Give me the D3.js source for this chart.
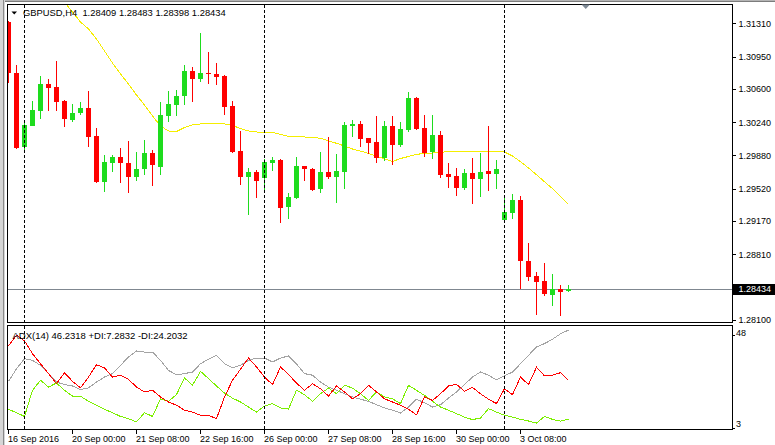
<!DOCTYPE html>
<html>
<head>
<meta charset="utf-8">
<script src="https://cdn.jsdelivr.net/npm/d3@7"></script>
<style>
html, body { margin: 0; padding: 0; background: #fff; }
svg { display: block; font-family: "Liberation Sans", Arial, sans-serif; font-size: 9px; }
</style>
</head>
<body>
<svg id="chart"></svg>
<script>
var width = 775, height = 445;

// GBPUSD H4 candles, one per bar, oldest first
var opens = [1.31324,1.30772,1.29975,1.30199,1.30364,1.30653,1.30618,1.30469,1.30264,1.30336,
  1.30394,1.30091,1.29596,1.29802,1.29860,1.29795,1.29650,1.29730,1.29904,1.29759,
  1.30307,1.30426,1.30524,1.30797,1.30707,1.30776,1.30762,1.30740,1.30415,1.29928,
  1.29650,1.29704,1.29640,1.29802,1.29831,1.29326,1.29423,1.29766,1.29734,1.29521,
  1.29701,1.29650,1.29704,1.30202,1.30221,1.30066,1.30026,1.29853,1.30199,1.29997,
  1.30156,1.30502,1.30177,1.29921,1.30102,1.29680,1.29658,1.29531,1.29687,1.29629,
  1.29712,1.29683,1.29185,1.29261,1.29398,1.28742,1.28579,1.28522,1.28374,1.28435,
  1.28409];
var highs = [1.31335,1.30859,1.30231,1.30469,1.30740,1.30707,1.30902,1.30480,1.30437,1.30455,
  1.30578,1.30174,1.29885,1.29885,1.29964,1.30037,1.29921,1.30047,1.29939,1.30455,
  1.30581,1.30588,1.30859,1.30840,1.31208,1.30996,1.30877,1.30751,1.30469,1.30148,
  1.29748,1.29723,1.29842,1.29867,1.29842,1.29477,1.29864,1.29770,1.29741,1.29918,
  1.30080,1.29896,1.30242,1.30264,1.30253,1.30070,1.30307,1.30253,1.30307,1.30242,
  1.30567,1.30516,1.30321,1.30321,1.30145,1.29799,1.29745,1.29734,1.29849,1.29907,
  1.30199,1.29831,1.29452,1.29463,1.29442,1.28933,1.28619,1.28717,1.28601,1.28479,
  1.28483];
var lows = [1.30664,1.29950,1.29907,1.30195,1.30271,1.30364,1.30364,1.30191,1.30245,1.30318,
  1.29975,1.29579,1.29488,1.29704,1.29579,1.29477,1.29604,1.29666,1.29553,1.29669,
  1.30245,1.30310,1.30426,1.30462,1.30678,1.30650,1.30643,1.30318,1.29904,1.29561,
  1.29236,1.29423,1.29496,1.29715,1.29153,1.29196,1.29412,1.29607,1.29499,1.29477,
  1.29629,1.29363,1.29521,1.30083,1.29975,1.29896,1.29802,1.29823,1.29780,1.29975,
  1.30137,1.30156,1.29864,1.29842,1.29640,1.29531,1.29445,1.29507,1.29358,1.29434,
  1.29499,1.29521,1.29153,1.29196,1.28432,1.28525,1.28154,1.28360,1.28255,1.28147,
  1.28398];
var closes = [1.30772,1.29964,1.30210,1.30372,1.30653,1.30613,1.30462,1.30271,1.30336,1.30390,
  1.30083,1.29596,1.29809,1.29860,1.29795,1.29650,1.29730,1.29904,1.29774,1.30318,
  1.30437,1.30524,1.30797,1.30707,1.30776,1.30758,1.30732,1.30408,1.29921,1.29650,
  1.29704,1.29607,1.29809,1.29831,1.29315,1.29431,1.29766,1.29730,1.29507,1.29701,
  1.29650,1.29712,1.30206,1.30221,1.30061,1.30018,1.29853,1.30199,1.29997,1.30163,
  1.30502,1.30163,1.29910,1.30102,1.29669,1.29650,1.29531,1.29687,1.29629,1.29698,
  1.29683,1.29734,1.29268,1.29398,1.28742,1.28568,1.28511,1.28384,1.28432,1.28406,
  1.28434];

// moving average (yellow), null where it is off the chart
var maValues = [null,null,null,null,null,null,1.31649,1.31540,1.31432,1.31324,
  1.31248,1.31140,1.31010,1.30880,1.30762,1.30653,1.30534,1.30426,1.30307,1.30199,
  1.30145,1.30139,1.30183,1.30210,1.30221,1.30226,1.30228,1.30221,1.30204,1.30172,
  1.30145,1.30134,1.30131,1.30131,1.30107,1.30087,1.30083,1.30080,1.30074,1.30066,
  1.30037,1.30012,1.29982,1.29950,1.29928,1.29901,1.29874,1.29842,1.29815,1.29847,
  1.29869,1.29891,1.29904,1.29907,1.29912,1.29925,1.29925,1.29921,1.29926,1.29928,
  1.29928,1.29928,1.29918,1.29874,1.29813,1.29745,1.29672,1.29596,1.29521,1.29434,
  1.29350];

// ADX(14) sub-window
var adxValues = [23.8,29.3,33.7,33.0,30.8,27.2,23.5,22.4,21.8,20.2,
  21.0,23.5,25.7,27.2,30.8,34.5,37.1,36.6,36.6,33.0,
  28.6,26.7,27.2,27.9,31.5,33.5,35.2,31.5,29.8,30.8,
  33.0,34.0,34.0,32.3,34.0,34.9,31.4,27.2,26.5,23.5,
  21.3,19.9,18.4,17.0,16.0,15.1,13.6,12.2,11.2,10.0,
  12.6,16.0,14.5,12.6,13.6,16.5,19.2,22.4,25.7,27.9,
  26.5,24.5,26.2,27.9,31.5,35.2,38.8,40.3,42.2,44.6,
  46.2];
var plusDI = [11.6,10.1,8.5,19.9,24.3,21.3,23.1,19.9,17.4,17.3,
  15.1,13.4,11.6,10.1,8.5,7.5,6.1,10.1,8.5,16.2,
  15.1,18.0,25.3,22.1,28.2,25.0,21.8,18.7,16.5,14.8,
  12.6,10.4,13.0,14.1,12.2,11.7,20.0,18.0,15.1,18.4,
  20.9,18.4,22.1,20.9,18.4,15.5,19.2,17.0,16.2,14.1,
  22.1,19.9,17.7,15.1,12.6,11.2,9.7,8.2,7.1,7.8,
  11.9,10.4,9.0,8.2,7.2,6.5,5.6,8.5,7.2,6.4,
  7.3];
var minusDI = [39.3,44.0,41.5,35.9,31.5,27.2,22.8,27.6,23.8,21.0,
  25.7,31.1,29.7,25.7,26.5,24.7,21.3,19.2,19.9,17.0,
  14.8,13.4,11.2,10.4,9.0,9.0,7.5,17.0,24.3,29.1,
  34.0,30.1,25.7,22.4,30.1,26.8,23.1,19.9,22.8,20.6,
  17.4,21.8,19.2,16.2,18.4,22.1,19.2,16.2,14.8,13.4,
  11.6,9.2,17.0,15.5,18.4,21.8,22.5,19.5,21.2,18.4,
  16.0,14.1,20.6,18.0,25.7,22.4,30.0,26.2,26.5,27.6,
  24.2];

var priceTicks = [1.31310,1.30950,1.30600,1.30240,1.29880,1.29520,1.29170,1.28810,1.28100];
var adxTicks = [48, 3];
var dateBars = [0, 8, 16, 24, 32, 40, 48, 56, 64];
var dateLabels = ["16 Sep 2016","20 Sep 00:00","21 Sep 08:00","22 Sep 16:00","26 Sep 00:00",
  "27 Sep 08:00","28 Sep 16:00","30 Sep 00:00","3 Oct 08:00"];
var separatorBars = [2, 32, 62];
var lastPrice = 1.28434;
var headerText = "GBPUSD,H4  1.28409 1.28483 1.28398 1.28434";
var adxHeader = "ADX(14) 46.2318 +DI:7.2832 -DI:24.2032";

var upColor = "#1edc1e", downColor = "#ff0000";

var left = 7.5, right = 732.5, mainTop = 4.5, mainBottom = 322.5, subTop = 325.5, subBottom = 429.5;

var svg = d3.select("#chart").attr("width", width).attr("height", height);
svg.append("rect").attr("width", width).attr("height", height).attr("fill", "#fff");

var n = closes.length;
var x = d3.scaleLinear().domain([0, n - 1]).range([8, 8 + 8 * (n - 1)]);
var y = d3.scaleLinear().domain([1.28100, 1.31310]).range([320, 23.3]);
var ya = d3.scaleLinear().domain([3, 48]).range([429, 326]);

var defs = svg.append("defs");
defs.append("clipPath").attr("id", "clipMain").append("rect")
  .attr("x", left).attr("y", mainTop).attr("width", right - left).attr("height", mainBottom - mainTop);
defs.append("clipPath").attr("id", "clipSub").append("rect")
  .attr("x", left).attr("y", subTop).attr("width", right - left).attr("height", subBottom - subTop);

// window chrome
svg.append("rect").attr("x", 0).attr("y", 0).attr("width", width).attr("height", 1).attr("fill", "#b4b4b4");
svg.append("rect").attr("x", 0).attr("y", 1).attr("width", width).attr("height", 1).attr("fill", "#7c7c7c");
svg.append("rect").attr("x", 0).attr("y", 0).attr("width", 5).attr("height", height).attr("fill", "#d6d6d6");
svg.append("rect").attr("x", 3).attr("y", 0).attr("width", 1).attr("height", height).attr("fill", "#8a8a8a");

var main = svg.append("g").attr("clip-path", "url(#clipMain)");

// current price line
main.append("line")
  .attr("x1", left).attr("x2", right)
  .attr("y1", Math.round(y(lastPrice)) + 0.5).attr("y2", Math.round(y(lastPrice)) + 0.5)
  .attr("stroke", "#7f8790").attr("stroke-width", 1);

// moving average
var maLine = d3.line()
  .defined(function(d) { return d != null; })
  .x(function(d, i) { return x(i) + 0.5; })
  .y(function(d) { return y(d); });
main.append("path").datum(maValues)
  .attr("d", maLine).attr("fill", "none")
  .attr("stroke", "#f5ee00").attr("stroke-width", 1)
  .attr("shape-rendering", "crispEdges");

// candles
var idx = d3.range(n);
var candle = main.selectAll("g.candle").data(idx).enter().append("g").attr("class", "candle")
  .attr("shape-rendering", "crispEdges");
candle.append("rect")
  .attr("x", function(i) { return x(i); })
  .attr("width", 1)
  .attr("y", function(i) { return Math.round(y(highs[i])); })
  .attr("height", function(i) { return Math.max(1, Math.round(y(lows[i])) - Math.round(y(highs[i]))); })
  .attr("fill", function(i) { return closes[i] >= opens[i] ? upColor : downColor; });
candle.append("rect")
  .attr("x", function(i) { return x(i) - 2; })
  .attr("width", 5)
  .attr("y", function(i) { return Math.round(y(Math.max(opens[i], closes[i]))); })
  .attr("height", function(i) {
    return Math.max(1, Math.round(y(Math.min(opens[i], closes[i]))) - Math.round(y(Math.max(opens[i], closes[i]))));
  })
  .attr("fill", function(i) { return closes[i] >= opens[i] ? upColor : downColor; });

// ADX sub window
var sub = svg.append("g").attr("clip-path", "url(#clipSub)");
function adxLine(vals) {
  return d3.line().x(function(d, i) { return x(i) + 0.5; }).y(function(d) { return ya(d); })(vals);
}
sub.append("path").attr("d", adxLine(adxValues)).attr("fill", "none").attr("stroke", "#a4a4a4")
  .attr("stroke-width", 1).attr("shape-rendering", "crispEdges");
sub.append("path").attr("d", adxLine(plusDI)).attr("fill", "none").attr("stroke", "#7cf000")
  .attr("stroke-width", 1).attr("shape-rendering", "crispEdges");
sub.append("path").attr("d", adxLine(minusDI)).attr("fill", "none").attr("stroke", "#ff0000")
  .attr("stroke-width", 1).attr("shape-rendering", "crispEdges");

// period separators
separatorBars.forEach(function(b) {
  [[mainTop, mainBottom], [subTop, subBottom]].forEach(function(r) {
    svg.append("line")
      .attr("x1", x(b) + 0.5).attr("x2", x(b) + 0.5)
      .attr("y1", r[0]).attr("y2", r[1])
      .attr("stroke", "#000").attr("stroke-width", 1)
      .attr("stroke-dasharray", "3,2").attr("shape-rendering", "crispEdges");
  });
});

// frames
[[mainTop, mainBottom], [subTop, subBottom]].forEach(function(r) {
  svg.append("rect")
    .attr("x", left).attr("y", r[0]).attr("width", right - left).attr("height", r[1] - r[0])
    .attr("fill", "none").attr("stroke", "#000").attr("stroke-width", 1)
    .attr("shape-rendering", "crispEdges");
});

// header texts
svg.append("path").attr("d", "M11.5,11.5 L17,11.5 L14.25,14.5 Z").attr("fill", "#000");
svg.append("text").attr("x", 23).attr("y", 16).style("white-space", "pre").style("font-size", "9.4px")
  .attr("fill", "#000").text(headerText);
svg.append("text").attr("x", 12.5).attr("y", 339).style("font-size", "9.5px")
  .attr("fill", "#000").text(adxHeader);

// chart shift marker
svg.append("path").attr("d", "M581.5,4.5 L590,4.5 L585.75,9 Z").attr("fill", "#7f8a96");

// price axis
var pa = svg.append("g");
priceTicks.forEach(function(v) {
  var py = Math.round(y(v)) + 0.5;
  pa.append("line").attr("x1", right).attr("x2", right + 3).attr("y1", py).attr("y2", py)
    .attr("stroke", "#000").attr("shape-rendering", "crispEdges");
  pa.append("text").attr("x", 738.5).attr("y", y(v) + 3.3).attr("fill", "#000").text(v.toFixed(5));
});
var ly = y(lastPrice);
pa.append("rect").attr("x", 733).attr("y", Math.round(ly) - 5).attr("width", 42).attr("height", 11).attr("fill", "#000");
pa.append("text").attr("x", 738.5).attr("y", ly + 3.3).attr("fill", "#fff").text(lastPrice.toFixed(5));

// ADX scale
var adxShift = [9, -1];
adxTicks.forEach(function(v, k) {
  var ty = Math.round(ya(v) + adxShift[k]) + 0.5;
  svg.append("line").attr("x1", right).attr("x2", right + 2).attr("y1", ty).attr("y2", ty)
    .attr("stroke", "#000").attr("shape-rendering", "crispEdges");
  svg.append("text").attr("x", 736).attr("y", k == 0 ? ty + 0.5 : ty - 2).attr("fill", "#000").text(v);
});

// time axis
dateBars.forEach(function(b, k) {
  svg.append("line").attr("x1", x(b) + 0.5).attr("x2", x(b) + 0.5).attr("y1", subBottom).attr("y2", subBottom + 4)
    .attr("stroke", "#000").attr("shape-rendering", "crispEdges");
  svg.append("text").attr("x", x(b)).attr("y", 442).attr("fill", "#000").text(dateLabels[k]);
});
</script>
</body>
</html>
